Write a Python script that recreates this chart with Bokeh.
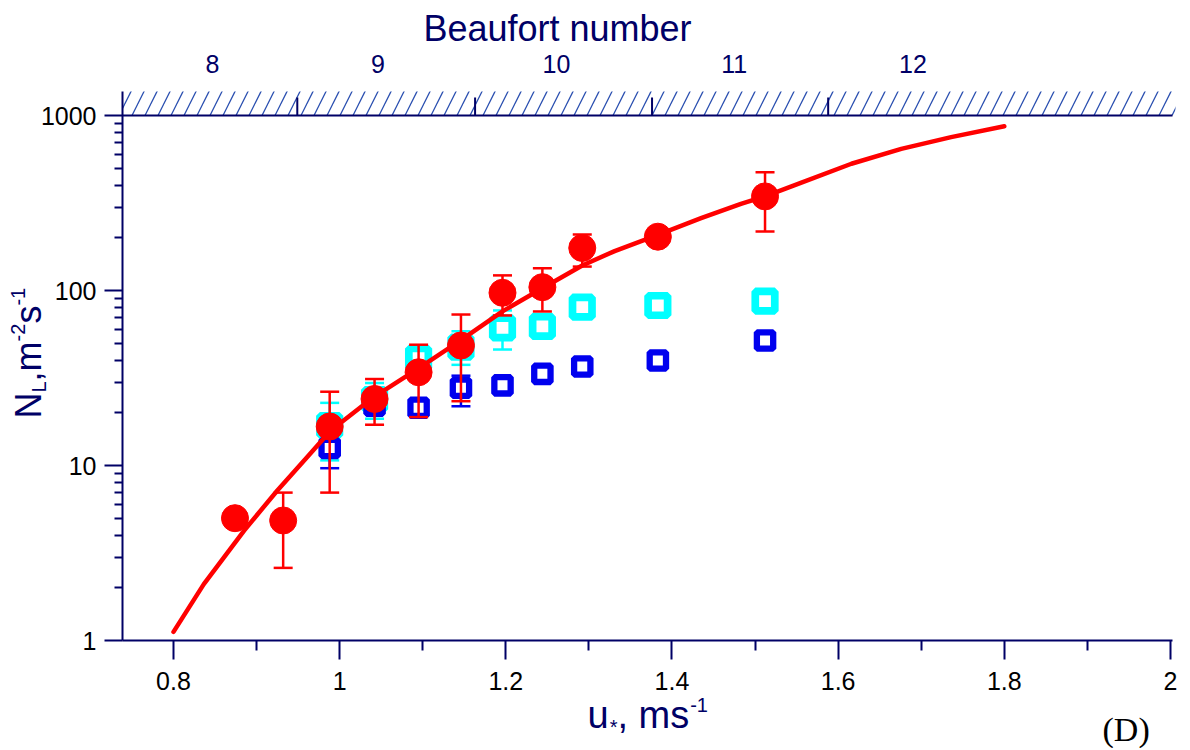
import math
from bokeh.plotting import figure
from bokeh.models import (Range1d, FixedTicker, CustomJSTickFormatter, LinearAxis,
                          Label, BoxAnnotation)
from bokeh.embed import file_html
from bokeh.resources import INLINE

# ---------------- data ----------------
nan = float("nan")

# red filled circles (with error bars)
u_red = [0.874, 0.932, 0.988, 1.042, 1.095, 1.146, 1.196, 1.244, 1.292, 1.383, 1.512]
n_red = [5.0, 4.85, 16.7, 24.0, 34.1, 48.5, 97.0, 104.5, 175.0, 203.0, 345.0]
n_red_lo = [nan, 2.6, 7.0, 17.1, 18.9, 23.3, 72.0, 75.9, 137.0, nan, 217.0]
n_red_hi = [nan, 7.0, 26.4, 31.2, 49.0, 72.9, 122.0, 134.0, 209.0, nan, 474.0]

# cyan open squares
u_cyan = [0.988, 1.042, 1.095, 1.146, 1.196, 1.244, 1.292, 1.383, 1.512]
n_cyan = [16.9, 23.8, 41.0, 47.5, 61.2, 62.3, 80.3, 82.1, 86.9]
n_cyan_lo = [10.7, 18.5, nan, 37.6, 46.0, nan, nan, nan, nan]
n_cyan_hi = [22.8, 29.6, nan, 58.5, 76.9, nan, nan, nan, nan]

# blue open squares
u_blue = [0.988, 1.042, 1.095, 1.146, 1.196, 1.244, 1.292, 1.383, 1.512]
n_blue = [12.6, 22.0, 21.4, 27.8, 28.7, 33.4, 36.8, 39.8, 51.8]
n_blue_lo = [9.65, 19.5, nan, 21.8, nan, nan, nan, nan, nan]
n_blue_hi = [16.4, 24.6, nan, 32.6, nan, nan, nan, nan, nan]

# red fitted curve
u_curve = [0.800, 0.8365, 0.885, 0.925, 0.961, 0.989, 1.041, 1.094, 1.146, 1.196,
           1.244, 1.292, 1.331, 1.383, 1.435, 1.483, 1.512, 1.555, 1.616, 1.676,
           1.736, 1.800]
n_curve = [1.12, 2.1, 4.25, 7.2, 11.2, 15.8, 24.6, 35.7, 52.0, 76.0,
           103.0, 139.0, 168.0, 208.0, 259.0, 313.0, 345.0, 412.0, 530.0, 645.0,
           752.0, 868.0]

# Beaufort scale (top band)
beaufort_edges = [0.949, 1.163, 1.376, 1.588]
beaufort_label_u = [0.847, 1.046, 1.261, 1.475, 1.690]
beaufort_labels = ["8", "9", "10", "11", "12"]

x_major = [0.8, 1.0, 1.2, 1.4, 1.6, 1.8, 2.0]
x_minor = [0.9, 1.1, 1.3, 1.5, 1.7, 1.9]
y_major = [1, 10, 100, 1000]
y_minor = [m * d for d in (1, 10, 100) for m in range(2, 10)]

# ---------------- styling / geometry ----------------
NAVY = "#000066"
RED = "#ff0000"
CYAN = "#00ffff"
BLUE = "#0000ee"
FONT = "Liberation Sans"

CANVAS_W, CANVAS_H = 1188, 748
PX_X0, PX_PER_U = 173.0, 830.8      # page x of u*=0.8, pixels per unit u*
PY_Y1, PX_PER_DEC = 640.0, 175.0    # page y of N=1, pixels per decade


def xd(px):
    return 0.8 + (px - PX_X0) / PX_PER_U


def yd(py):
    return 10 ** ((PY_Y1 - py) / PX_PER_DEC)


# extent of the plotting box (as in the reference)
X_LO, X_HI = xd(122), xd(1172)
Y_LO, Y_BAND, Y_TOP = 1.0, 1000.0, yd(91)
X_HATCH_END = xd(1175)
TICK_TOP = yd(97)

p = figure(width=CANVAS_W, height=CANVAS_H,
           x_range=Range1d(xd(0), xd(CANVAS_W)), y_range=Range1d(yd(CANVAS_H), yd(0)),
           y_axis_type="log", output_backend="svg", toolbar_location=None)
p.min_border = 0
p.min_border_left = 0
p.min_border_right = 0
p.min_border_top = 0
p.min_border_bottom = 0
p.outline_line_color = None
p.xgrid.visible = False
p.ygrid.visible = False
p.background_fill_color = "white"
p.border_fill_color = "white"

# bottom axis
xa = p.xaxis[0]
xa.fixed_location = Y_LO
xa.bounds = (X_LO, X_HI)
xa.ticker = FixedTicker(ticks=x_major, minor_ticks=x_minor)
xa.formatter = CustomJSTickFormatter(code="return String(Math.round(tick*10)/10);")
xa.axis_line_color = NAVY
xa.axis_line_width = 2
xa.major_tick_line_color = NAVY
xa.major_tick_line_width = 2
xa.minor_tick_line_color = NAVY
xa.minor_tick_line_width = 2
xa.major_tick_in = 0
xa.major_tick_out = 19
xa.minor_tick_in = 0
xa.minor_tick_out = 10
xa.major_label_standoff = 12
xa.major_label_text_font = FONT
xa.major_label_text_font_size = "25px"
xa.major_label_text_color = "black"

# left axis
ya = p.yaxis[0]
ya.fixed_location = X_LO
ya.bounds = (Y_LO, Y_TOP)
ya.ticker = FixedTicker(ticks=y_major, minor_ticks=y_minor)
ya.formatter = CustomJSTickFormatter(code="return String(Math.round(tick));")
ya.axis_line_color = NAVY
ya.axis_line_width = 2
ya.major_tick_line_color = NAVY
ya.major_tick_line_width = 2
ya.minor_tick_line_color = NAVY
ya.minor_tick_line_width = 2
ya.major_tick_in = 0
ya.major_tick_out = 18
ya.minor_tick_in = 0
ya.minor_tick_out = 8
ya.major_label_standoff = 8
ya.major_label_text_font = FONT
ya.major_label_text_font_size = "25px"
ya.major_label_text_color = "black"

# top axis: Beaufort numbers
top = LinearAxis(
    fixed_location=Y_TOP, bounds=(X_LO, X_HI),
    ticker=FixedTicker(ticks=beaufort_label_u),
    formatter=CustomJSTickFormatter(
        args=dict(pos=beaufort_label_u, labs=beaufort_labels),
        code="""let best=''; let bd=1e9;
for (let i=0;i<pos.length;i++){const d=Math.abs(pos[i]-tick); if(d<bd){bd=d;best=labs[i];}}
return best;"""),
    axis_line_color=None, major_tick_line_color=None, minor_tick_line_color=None,
    major_tick_in=0, major_tick_out=0, minor_tick_in=0, minor_tick_out=0,
    major_label_standoff=19, major_label_text_font=FONT,
    major_label_text_font_size="25px", major_label_text_color=NAVY)
p.add_layout(top, "above")

# hatched band above 1000
band = BoxAnnotation(left=X_LO, right=X_HATCH_END, bottom=Y_BAND, top=Y_TOP,
                     fill_color=None, fill_alpha=0, line_color=None,
                     hatch_pattern="/", hatch_color="#2a4fb0",
                     hatch_scale=26, hatch_weight=1.3, hatch_alpha=1.0, level="underlay")
p.add_layout(band)
p.segment(x0=[X_LO], y0=[Y_BAND], x1=[X_HI], y1=[Y_BAND], line_color=NAVY, line_width=2)
p.segment(x0=beaufort_edges, y0=[Y_BAND] * len(beaufort_edges),
          x1=beaufort_edges, y1=[TICK_TOP] * len(beaufort_edges),
          line_color=NAVY, line_width=2)


def errbars(xs, lo, hi, color):
    p.segment(x0=xs, y0=lo, x1=xs, y1=hi, line_color=color, line_width=2.5)
    p.scatter(xs, lo, marker="dash", size=19, line_color=color, line_width=2.5)
    p.scatter(xs, hi, marker="dash", size=19, line_color=color, line_width=2.5)


errbars(u_cyan, n_cyan_lo, n_cyan_hi, CYAN)
p.scatter(u_cyan, n_cyan, marker="square", size=19.5, fill_color="white",
          line_color=CYAN, line_width=7.7)
errbars(u_blue, n_blue_lo, n_blue_hi, BLUE)
p.scatter(u_blue, n_blue, marker="square", size=16.3, fill_color="white",
          line_color=BLUE, line_width=6.3)
p.line(u_curve, n_curve, line_color=RED, line_width=4.5, line_cap="round",
       line_join="round")
errbars(u_red, n_red_lo, n_red_hi, RED)
p.scatter(u_red, n_red, marker="circle", size=27, fill_color=RED, line_color=RED,
          line_width=1)

# ---------------- texts ----------------
W = {"N": .722, "L": .556, ",": .278, "m": .833, "-": .333, "2": .556, "1": .556,
     "s": .5, "u": .556, "*": .389, " ": .278}


def tw(s, size):
    return sum(W[c] for c in s) * size


def lab(px, py, text, size, color=NAVY, angle=0.0, align="left", font=FONT):
    shift = size / 3.0  # empirical baseline correction of Label placement
    if angle == 0.0:
        py -= shift
    else:
        px -= shift
    p.add_layout(Label(x=xd(px), y=yd(py), text=text, text_font=font,
                       text_font_size=f"{size}px", text_color=color,
                       text_align=align, text_baseline="alphabetic",
                       angle=angle, angle_units="rad"))


# "Beaufort number"
lab(557, 40, "Beaufort number", 36, align="center")

# x-axis title: u*, ms^-1
bx, by = 587.0, 727.0
lab(bx, by, "u", 38)
bx += tw("u", 38) + 1
lab(bx, by + 6, "*", 20)
bx += tw("*", 20)
lab(bx, by, ", ms", 38)
bx += tw(", ms", 38) + 1
lab(bx, by - 16, "-1", 20)

# y-axis title: N_L,m^-2 s^-1 (vertical)
vy, vx = 418.0, 40.0
ang = math.pi / 2
for txt, size, shift in [("N", 36, 0), ("L", 20, 5), (",m", 36, 0), ("-2", 20, -16),
                         ("s", 36, 0), ("-1", 20, -16)]:
    lab(vx + shift, vy, txt, size, angle=ang)
    vy -= tw(txt, size)

# panel tag
lab(1102, 740, "(D)", 34, color="black", font="Liberation Serif")

open("out.html", "w").write(file_html(p, INLINE))
